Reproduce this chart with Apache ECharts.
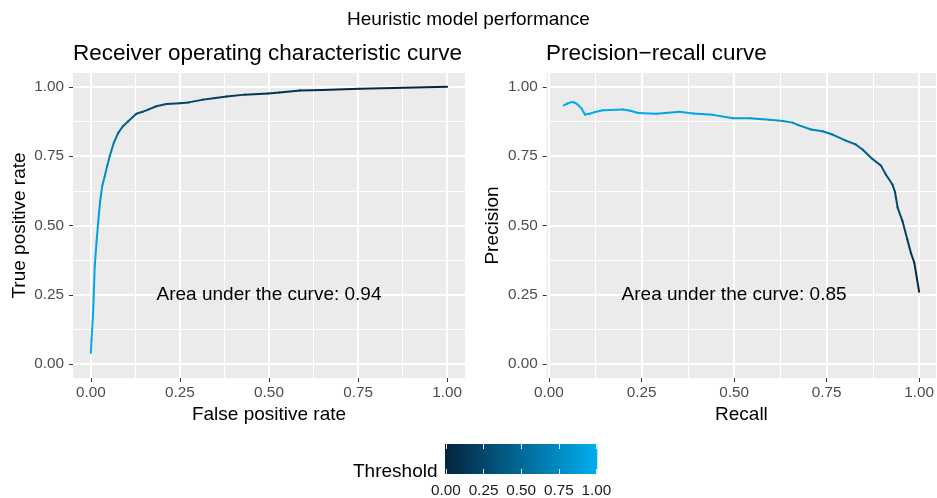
<!DOCTYPE html>
<html><head><meta charset="utf-8">
<script src="https://cdn.jsdelivr.net/npm/echarts@6/dist/echarts.min.js"></script>
<style>html,body{margin:0;padding:0;background:#fff}#chart{width:937px;height:498px}</style>
</head><body><div id="chart"></div>
<script>
// ---- data ----
const rocFpr = [0, 0.002, 0.0065, 0.011, 0.016, 0.0205, 0.026, 0.032, 0.039, 0.046, 0.053, 0.065, 0.077, 0.09, 0.105, 0.128, 0.145, 0.161, 0.184, 0.212, 0.25, 0.275, 0.315, 0.35, 0.381, 0.432, 0.498, 0.53, 0.587, 0.65, 0.755, 0.85, 1.0];
const rocTpr = [0.04, 0.089, 0.185, 0.353, 0.44, 0.51, 0.585, 0.642, 0.678, 0.715, 0.75, 0.8, 0.834, 0.858, 0.876, 0.903, 0.91, 0.918, 0.93, 0.938, 0.941, 0.944, 0.954, 0.96, 0.965, 0.972, 0.976, 0.98, 0.987, 0.989, 0.993, 0.996, 1.0];
const rocThreshold = [1.0, 0.99, 0.97, 0.95, 0.93, 0.9, 0.86, 0.82, 0.78, 0.73, 0.67, 0.58, 0.51, 0.46, 0.41, 0.35, 0.33, 0.31, 0.28, 0.26, 0.25, 0.24, 0.21, 0.19, 0.17, 0.15, 0.13, 0.12, 0.09, 0.08, 0.05, 0.03, 0.0];

const prRecall = [0.04, 0.05, 0.061, 0.068, 0.075, 0.088, 0.097, 0.11, 0.124, 0.146, 0.2, 0.22, 0.241, 0.29, 0.353, 0.389, 0.443, 0.497, 0.542, 0.596, 0.632, 0.658, 0.672, 0.708, 0.739, 0.766, 0.802, 0.829, 0.847, 0.874, 0.897, 0.91, 0.928, 0.935, 0.942, 0.955, 0.968, 0.978, 0.987, 1.0];
const prPrecision = [0.933, 0.94, 0.945, 0.944, 0.939, 0.922, 0.90, 0.903, 0.909, 0.916, 0.918, 0.914, 0.906, 0.903, 0.91, 0.904, 0.899, 0.887, 0.887, 0.881, 0.877, 0.871, 0.863, 0.846, 0.84, 0.828, 0.806, 0.792, 0.774, 0.74, 0.716, 0.684, 0.648, 0.62, 0.564, 0.516, 0.45, 0.40, 0.366, 0.261];
const prThreshold = [1.0, 0.995, 0.99, 0.99, 0.99, 0.985, 0.98, 0.98, 0.975, 0.97, 0.965, 0.96, 0.96, 0.955, 0.95, 0.94, 0.92, 0.9, 0.88, 0.86, 0.83, 0.8, 0.78, 0.72, 0.66, 0.6, 0.53, 0.49, 0.46, 0.4, 0.36, 0.33, 0.29, 0.27, 0.26, 0.23, 0.18, 0.15, 0.11, 0.0];

const majorTicks = [0, 0.25, 0.5, 0.75, 1];
const minorTicks = [0.125, 0.375, 0.625, 0.875];
const legendTicks = [0, 0.25, 0.5, 0.75, 1];
const aucRoc = [0.94];
const aucPr = [0.85];
const aucPos = [[0.5, 0.25]];

// ---- style ----
const FONT = 'Liberation Sans, Arial, Helvetica, sans-serif';
const LOW = '#04233D', HIGH = '#00AEEF';

function segments(xs, ys, ts) {
  const out = [];
  for (let i = 0; i < xs.length - 1; i++) out.push([xs[i], ys[i], xs[i + 1], ys[i + 1], (ts[i] + ts[i + 1]) / 2]);
  return out;
}
function mainX(g, min, max, name) {
  return { type: 'value', gridIndex: g, min, max, position: 'bottom',
    name, nameLocation: 'middle', nameGap: 24,
    nameTextStyle: { color: '#000', fontSize: 19, fontFamily: FONT },
    axisLine: { show: false, onZero: false },
    axisTick: { show: true, length: 4, lineStyle: { color: '#333', width: 1 }, customValues: majorTicks },
    axisLabel: { customValues: majorTicks, formatter: v => v.toFixed(2), color: '#4D4D4D', fontSize: 15.3, margin: 7, fontFamily: FONT },
    splitLine: { show: true, lineStyle: { color: '#fff', width: 2 } } };
}
function mainY(g, min, max, name) {
  return { type: 'value', gridIndex: g, min, max, position: 'left',
    name, nameLocation: 'middle', nameGap: 44, nameRotate: 90,
    nameTextStyle: { color: '#000', fontSize: 19, fontFamily: FONT },
    axisLine: { show: false, onZero: false },
    axisTick: { show: true, length: 4, lineStyle: { color: '#333', width: 1 }, customValues: majorTicks },
    axisLabel: { customValues: majorTicks, formatter: v => v.toFixed(2), color: '#4D4D4D', fontSize: 15.3, margin: 9, fontFamily: FONT },
    splitLine: { show: true, lineStyle: { color: '#fff', width: 2 } } };
}
function minorAxis(g, min, max, pos) {
  return { type: 'value', gridIndex: g, min, max, position: pos,
    axisLine: { show: false, onZero: false },
    axisTick: { show: false, customValues: minorTicks },
    axisLabel: { show: false, customValues: minorTicks },
    splitLine: { show: true, lineStyle: { color: '#fff', width: 1 } } };
}
function curveSeries(xi, yi, data) {
  return { type: 'custom', xAxisIndex: xi, yAxisIndex: yi, clip: false,
    dimensions: ['x0', 'y0', 'x1', 'y1', 'threshold'],
    encode: { x: [0, 2], y: [1, 3] },
    data,
    renderItem: (params, api) => {
      const p0 = api.coord([api.value(0), api.value(1)]);
      const p1 = api.coord([api.value(2), api.value(3)]);
      return { type: 'line', shape: { x1: p0[0], y1: p0[1], x2: p1[0], y2: p1[1] },
        style: { stroke: api.visual('color'), lineWidth: 2, lineCap: 'round' } };
    } };
}
function aucSeries(xi, yi, auc) {
  return { type: 'scatter', xAxisIndex: xi, yAxisIndex: yi, data: aucPos, symbolSize: 1, silent: true,
    itemStyle: { color: 'rgba(0,0,0,0)' },
    label: { show: true, position: 'inside', formatter: 'Area under the curve: ' + auc[0].toFixed(2),
      color: '#000', opacity: 1, textBorderWidth: 0, fontSize: 19, fontFamily: FONT } };
}

const chart = echarts.init(document.getElementById('chart'), null, { renderer: 'canvas' });
const titleStyle = (fs) => ({ fontSize: fs, fontWeight: 'normal', color: '#000', fontFamily: FONT });
chart.setOption({
  animation: false,
  backgroundColor: '#fff',
  title: [
    { text: 'Heuristic model performance', left: 'center', top: 10, padding: 0, textStyle: titleStyle(19) },
    { text: 'Receiver operating characteristic curve', left: 73, top: 42, padding: 0, textStyle: titleStyle(22.5) },
    { text: 'Precision\u2212recall curve', left: 546, top: 42, padding: 0, textStyle: titleStyle(22.5) },
    { text: 'Threshold', left: 353, top: 462, padding: 0, textStyle: titleStyle(19) }
  ],
  grid: [
    { left: 73, top: 73, width: 392, height: 305, show: true, backgroundColor: '#EBEBEB', borderWidth: 0 },
    { left: 546.7, top: 73, width: 390.3, height: 305, show: true, backgroundColor: '#EBEBEB', borderWidth: 0 },
    { left: 445, top: 444, width: 152.3, height: 30, show: false }
  ],
  xAxis: [
    minorAxis(0, -0.05, 1.05, 'top'),
    mainX(0, -0.05, 1.05, 'False positive rate'),
    minorAxis(1, -0.0062, 1.046, 'top'),
    mainX(1, -0.0062, 1.046, 'Recall'),
    { type: 'value', gridIndex: 2, min: -0.006, max: 1.006, position: 'bottom', z: 10,
      axisLine: { show: false, onZero: false },
      axisTick: { show: true, inside: true, length: 5, lineStyle: { color: 'rgba(255,255,255,0.9)', width: 1 }, customValues: legendTicks },
      axisLabel: { customValues: legendTicks, formatter: v => v.toFixed(2), color: '#1A1A1A', fontSize: 15.3, margin: 9, fontFamily: FONT },
      splitLine: { show: false } },
    { type: 'value', gridIndex: 2, min: -0.006, max: 1.006, position: 'top', z: 10,
      axisLine: { show: false, onZero: false },
      axisTick: { show: true, inside: true, length: 5, lineStyle: { color: 'rgba(255,255,255,0.9)', width: 1 }, customValues: legendTicks },
      axisLabel: { show: false, customValues: legendTicks },
      splitLine: { show: false } }
  ],
  yAxis: [
    minorAxis(0, -0.05, 1.05, 'right'),
    mainY(0, -0.05, 1.05, 'True positive rate'),
    minorAxis(1, -0.05, 1.05, 'right'),
    mainY(1, -0.05, 1.05, 'Precision'),
    { type: 'value', gridIndex: 2, min: 0, max: 1, show: false }
  ],
  visualMap: {
    type: 'continuous', show: false, min: 0, max: 1, dimension: 4, seriesIndex: [0, 1],
    inRange: { color: [LOW, HIGH] }
  },
  series: [
    curveSeries(1, 1, segments(rocFpr, rocTpr, rocThreshold)),
    curveSeries(3, 3, segments(prRecall, prPrecision, prThreshold)),
    aucSeries(1, 1, aucRoc),
    aucSeries(3, 3, aucPr),
    { type: 'custom', xAxisIndex: 4, yAxisIndex: 4, silent: true, z: 1, data: [[0, 0]],
      renderItem: (params, api) => {
        const c = params.coordSys;
        return { type: 'rect', shape: { x: c.x, y: c.y, width: c.width, height: c.height },
          style: { fill: new echarts.graphic.LinearGradient(0, 0, 1, 0, [{ offset: 0, color: LOW }, { offset: 1, color: HIGH }]) } };
      } }
  ]
});
</script></body></html>
